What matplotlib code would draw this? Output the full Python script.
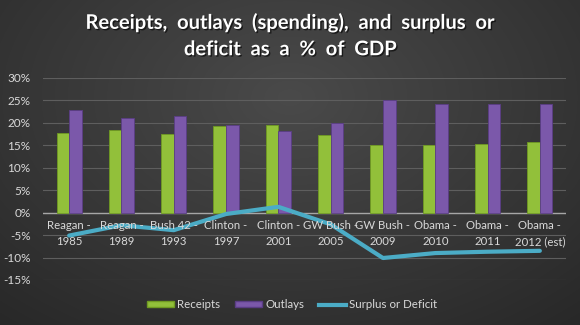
import numpy as np
import matplotlib
matplotlib.use("Agg")
import matplotlib.pyplot as plt
import matplotlib.patheffects as pe
from matplotlib.patches import Patch
from matplotlib.lines import Line2D

categories = ["Reagan -\n1985", "Reagan -\n1989", "Bush 42 -\n1993", "Clinton -\n1997",
              "Clinton -\n2001", "GW Bush -\n2005", "GW Bush -\n2009", "Obama -\n2010",
              "Obama -\n2011", "Obama -\n2012 (est)"]
receipts = [17.7, 18.4, 17.5, 19.3, 19.5, 17.3, 15.0, 15.0, 15.4, 15.8]
outlays = [22.8, 21.2, 21.5, 19.5, 18.2, 19.9, 25.2, 24.1, 24.1, 24.3]
surplus = [-5.1, -2.8, -3.9, -0.3, 1.3, -2.6, -10.1, -9.0, -8.7, -8.5]
yticks = [-15, -10, -5, 0, 5, 10, 15, 20, 25, 30]

GREEN = "#92c03a"
PURPLE = "#7b58aa"
TEAL = "#4bacc6"
TEXT = "#d9d9d9"

plt.rcParams["font.family"] = ["Lato", "DejaVu Sans"]

fig = plt.figure(figsize=(5.8, 3.25), dpi=100)

# ── radial dark background ────────────────────────────────────
bg = fig.add_axes([0, 0, 1, 1], zorder=-10)
gx, gy = np.meshgrid(np.linspace(0, 1, 580), np.linspace(0, 1, 325))
r = np.sqrt(((gx - 0.5) / 0.75) ** 2 + ((gy - 0.3) / 0.9) ** 2)
shade = np.clip(0.29 - 0.13 * r, 0.15, 0.3)
bg.imshow(np.dstack([shade] * 3), aspect="auto", extent=[0, 1, 0, 1])
bg.axis("off")

ax = fig.add_axes([43 / 580, 1 - 280 / 325, 523 / 580, 202 / 325])
ax.set_facecolor("none")
x = np.arange(len(categories))
w = 0.24

ax.bar(x - w / 2, receipts, w, color=GREEN, edgecolor="#6f9a22", linewidth=0.6, zorder=3)
ax.bar(x + w / 2, outlays, w, color=PURPLE, edgecolor="#5a3d85", linewidth=0.6, zorder=3)
ax.plot(x, surplus, color=TEAL, lw=3, zorder=4, solid_capstyle="round")

ax.set_xlim(-0.5, len(categories) - 0.5)
ax.set_ylim(-15, 30)
ax.set_yticks(yticks)
ax.set_yticklabels([f"{v}%" for v in yticks])
ax.grid(axis="y", color="#5e5e5e", lw=0.8, zorder=0)
ax.axhline(0, color="#a6a6a6", lw=1.0, zorder=2)
for s in ax.spines.values():
    s.set_visible(False)
ax.tick_params(axis="y", length=0, colors=TEXT, labelsize=8.5, pad=9)
ax.tick_params(axis="x", length=0, bottom=False, labelbottom=False)

for i, lab in enumerate(categories):
    ax.text(i, -1.7, lab, ha="center", va="top", color=TEXT, fontsize=8.2,
            linespacing=1.55, zorder=5)

fig.text(0.5, 0.89, "Receipts,  outlays  (spending),  and  surplus  or\ndeficit  as  a  %  of  GDP",
         ha="center", va="center", color="white", fontsize=14.5, fontweight="bold",
         linespacing=1.4,
         path_effects=[pe.withSimplePatchShadow(offset=(1, -1), shadow_rgbFace="black", alpha=0.6)])

handles = [
    Patch(facecolor=GREEN, edgecolor="#6f9a22", label="Receipts"),
    Patch(facecolor=PURPLE, edgecolor="#5a3d85", label="Outlays"),
    Line2D([0], [0], color=TEAL, lw=3, label="Surplus or Deficit"),
]
fig.legend(handles=handles, loc="center", bbox_to_anchor=(0.504, 0.062), ncol=3,
           frameon=False, fontsize=8.3, labelcolor=TEXT, handlelength=2.3,
           handleheight=0.45, handletextpad=0.3, columnspacing=1.3)

fig.savefig("out.png", dpi=100)
